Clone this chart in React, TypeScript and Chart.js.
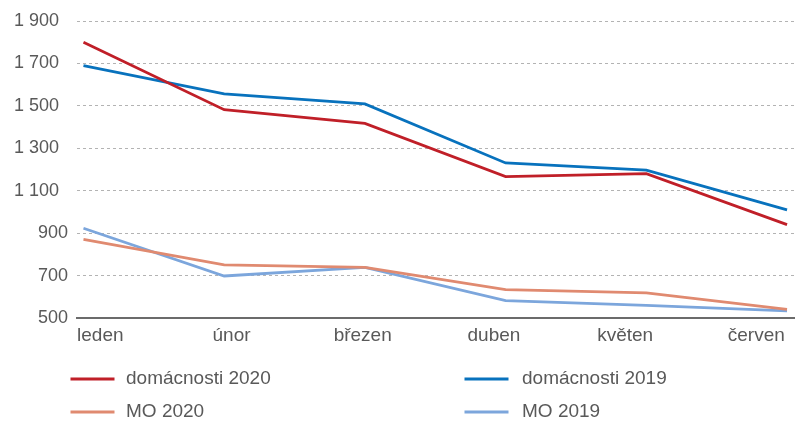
import React, { useEffect, useRef } from 'react';
import { Chart, registerables } from 'chart.js';

Chart.register(...registerables);

const categories = ['leden', 'únor', 'březen', 'duben', 'květen', 'červen'];
const domacnosti2020 = [1800, 1482, 1417, 1167, 1180, 940];
const domacnosti2019 = [1690, 1557, 1509, 1231, 1197, 1010];
const mo2020 = [871, 750, 739, 634, 618, 541];
const mo2019 = [923, 698, 739, 582, 560, 534];

const seriesLabels = ['domácnosti 2020', 'domácnosti 2019', 'MO 2020', 'MO 2019'];
const seriesColors = ['#c01f28', '#0872bd', '#e08a70', '#7ca6dc'];

const yMin = 500;
const yMax = 1900;
const yStep = 200;

const FONT = '"Liberation Sans", Arial, sans-serif';
const TEXT = '#595959';

function formatTick(v: number): string {
  if (v >= 1000) {
    const th = Math.floor(v / 1000);
    const rest = String(v % 1000).padStart(3, '0');
    return th + ' ' + rest + '\u2002';
  }
  return String(v);
}

const legendPlugin = {
  id: 'twoColLegend',
  afterDraw(chart: any) {
    const ctx = chart.ctx;
    const cols = [
      { lineX: 70.5, textX: 126 },
      { lineX: 464.5, textX: 522 },
    ];
    const rows = [379, 412];
    chart.data.datasets.forEach((ds: any, i: number) => {
      const c = cols[i % 2];
      const y = rows[Math.floor(i / 2)];
      ctx.save();
      ctx.strokeStyle = ds.borderColor;
      ctx.lineWidth = 3;
      ctx.beginPath();
      ctx.moveTo(c.lineX, y);
      ctx.lineTo(c.lineX + 44, y);
      ctx.stroke();
      ctx.fillStyle = TEXT;
      ctx.font = `19px ${FONT}`;
      ctx.textBaseline = 'alphabetic';
      ctx.textAlign = 'left';
      ctx.fillText(ds.label, c.textX, y + 4.5);
      ctx.restore();
    });
  },
};

export default function App() {
  const ref = useRef<HTMLCanvasElement | null>(null);

  useEffect(() => {
    document.body.style.margin = '0';
    const canvas = ref.current;
    if (!canvas) return;
    const all = [domacnosti2020, domacnosti2019, mo2020, mo2019];
    const chart = new Chart(canvas, {
      type: 'line',
      data: {
        datasets: all.map((vals, k) => ({
          label: seriesLabels[k],
          data: vals.map((v, i) => ({ x: i, y: v })),
          borderColor: seriesColors[k],
          backgroundColor: seriesColors[k],
          borderWidth: 2.75,
          pointRadius: 0,
          pointHoverRadius: 0,
          tension: 0,
          fill: false,
          xAxisID: 'x',
          yAxisID: 'y',
        })),
      },
      options: {
        animation: false,
        responsive: false,
        maintainAspectRatio: false,
        layout: { padding: { top: 21, right: 4.5, left: 0, bottom: 0 } },
        plugins: {
          legend: { display: false },
          tooltip: { enabled: false },
        },
        scales: {
          x: {
            type: 'linear',
            min: -0.046,
            max: 5.053,
            display: false,
          },
          x2: {
            type: 'linear',
            position: 'bottom',
            min: -0.1776,
            max: 5.291,
            grid: { display: false, drawTicks: false },
            border: { display: true, color: '#6b6b6b', width: 2 },
            afterBuildTicks: (s: any) => {
              s.ticks = categories.map((_, i) => ({ value: i }));
            },
            afterFit: (s: any) => {
              s.height = 103;
            },
            ticks: {
              autoSkip: false,
              maxRotation: 0,
              includeBounds: false,
              padding: 6,
              color: TEXT,
              font: { family: FONT, size: 19 },
              callback: (v: any) => categories[Math.round(Number(v))] ?? '',
            },
          },
          y: {
            type: 'linear',
            min: yMin,
            max: yMax,
            afterFit: (s: any) => {
              s.width = 77;
            },
            ticks: {
              stepSize: yStep,
              padding: 9,
              color: TEXT,
              font: { family: FONT, size: 18 },
              callback: (v: any) => formatTick(Number(v)),
            },
            grid: {
              drawTicks: false,
              lineWidth: 1,
              color: (c: any) => (c.tick && c.tick.value === yMin ? 'rgba(0,0,0,0)' : '#b3b3b3'),
            },
            border: { display: false, dash: [3, 3] },
          },
        },
      },
      plugins: [legendPlugin],
    } as any);
    return () => chart.destroy();
  }, []);

  return (
    <div style={{ width: 799, height: 421 }}>
      <canvas ref={ref} width={799} height={421} />
    </div>
  );
}
